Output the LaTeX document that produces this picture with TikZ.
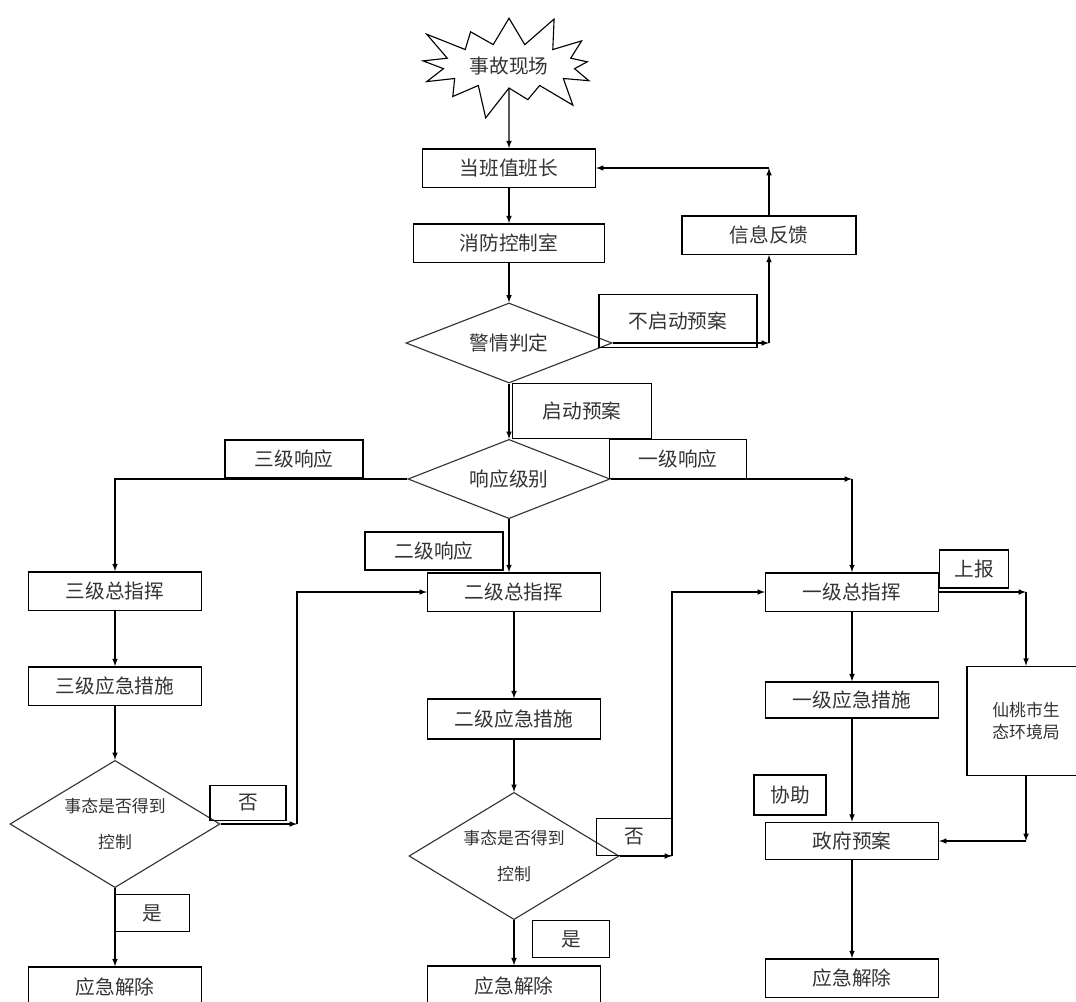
\documentclass[tikz,border=0pt]{standalone}
\usepackage{fontspec}
\setmainfont{Noto Sans CJK SC}
\usepackage{tikz}
\usetikzlibrary{shapes.geometric}
\usetikzlibrary{shapes.symbols}
\usetikzlibrary{arrows}
\newcommand\cnbig{\fontsize{14}{17}\selectfont}
\newcommand\cnsmall{\fontsize{12}{16}\selectfont}

\begin{document}
\begin{tikzpicture}[x=.025cm,y=-.025cm]%
        \useasboundingbox (0,0) rectangle (1076,1001); %%
        %\draw[step=100,color=gray,very thin] (0,0) grid (1076,1001);%%
        \begin{scope}[shape=starburst,inner sep=.02cm]
        \tikzstyle{every node}=[draw,line width=.8pt,font=\cnbig,text=black!80,minimum width=5.1cm,minimum height=2.9cm,starburst point height=.9cm,starburst points=13] %%
        \node (acc) at (509,66)  {事故现场}; %%
        \end{scope}%
        \begin{scope}[shape=diamond,inner sep=.02cm,aspect=1.7]
        \tikzstyle{every node}=[draw,line width=.8pt,draw=black!80,font=\cnbig,text=black!80] %%
        \node[minimum width=5.15cm,minimum height=2cm] (jq) at (509,343)  {警情判定}; %%
        \node[minimum width=5.05cm,minimum height=1.98cm] (xy) at (509,479)  {响应级别}; %%
        \node[minimum width=5.25cm,minimum height=3.18cm,font=\cnsmall,align=center] (pd3) at (115,824)  {事态是否得到\\[10pt]控制}; %%
        \node[minimum width=5.25cm,minimum height=3.18cm,font=\cnsmall,align=center] (pd2) at (514,856)  {事态是否得到\\[10pt]控制}; %%
        \end{scope}
        \begin{scope}[shape=rectangle,inner sep=.05cm,minimum width=4.32cm,minimum height=.96cm]
        \tikzstyle{every node}=[draw,line width=1pt,font=\cnbig,text=black!80] %%
        \node (bz) at (509,168)  {当班值班长}; %%
        \node[minimum width=4.78cm] (xf) at (509,243)  {消防控制室}; %%
        \node[minimum width=4.35cm] (fk) at (769,235)  {信息反馈}; %%
        \node (zh3) at (115,591)  {三级总指挥}; %%
        \node (zh2) at (514,592)  {二级总指挥}; %%
        \node (zh1) at (852,592)  {一级总指挥}; %%
        \node (cs3) at (115,686)  {三级应急措施}; %%
        \node[minimum height=1cm] (cs2) at (514,719)  {二级应急措施}; %%
        \node[minimum height=.9cm] (cs1) at (852,700)  {一级应急措施}; %%
        \node[minimum height=.93cm] (zf) at (852,841)  {政府预案}; %%
        \node[minimum height=1cm] (jc3) at (115,987)  {应急解除}; %%
        \node[minimum height=1cm] (jc2) at (514,986)  {应急解除}; %%
        \node (jc1) at (852,978)  {应急解除}; %%
        \node[minimum width=2.95cm,minimum height=2.73cm,font=\cnsmall,align=center] (hb) at (1026,721)  {仙桃市生\\态环境局}; %%
        \end{scope}
        \begin{scope}[shape=rectangle,inner sep=.05cm]
        \tikzstyle{every node}=[draw,line width=1pt,font=\cnbig,text=black!80] %%
        \node[minimum width=3.48cm,minimum height=1.38cm] (qd) at (582,411)  {启动预案}; %%
        \node[minimum width=3.95cm,minimum height=1.33cm] (bq) at (678,321)  {不启动预案}; %%
        \node[minimum width=3.45cm,minimum height=.95cm] (s3) at (294,459)  {三级响应}; %%
        \node[minimum width=3.43cm,minimum height=.98cm] (s1) at (678,459)  {一级响应}; %%
        \node[minimum width=3.45cm,minimum height=.95cm] (s2) at (434,551)  {二级响应}; %%
        \node[minimum width=1.73cm,minimum height=.95cm] (sb) at (974,569)  {上报}; %%
        \node[minimum width=1.9cm,minimum height=.88cm] (f3) at (248,803)  {否}; %%
        \node[minimum width=1.88cm,minimum height=.93cm] (f2) at (634,837)  {否}; %%
        \node[minimum width=1.88cm,minimum height=.93cm] (y3) at (152,913)  {是}; %%
        \node[minimum width=1.93cm,minimum height=.93cm] (y2) at (571,939)  {是}; %%
        \node[minimum width=1.8cm,minimum height=1cm] (xz) at (790,795)  {协助}; %%
        \end{scope}
        \coordinate (k1) at (fk.south |- jq.east); %%
        \coordinate (k2) at (fk.north |- bz.east); %%
        \coordinate (k3) at (zh1.north |- xy.east); %%
        \coordinate (k4) at (297,824); %%
        \coordinate (k5) at (672,856); %%
        \coordinate (k6) at (hb.north |- zh1.east); %%
        \coordinate (k7) at (hb.south |- zf.east); %%
        \draw[->,-latex,thick] (acc.south)--(bz.north); %%
        \draw[->,-latex,thick] (bz)--(xf); %%
        \draw[->,-latex,thick] (xf)--(jq); %%
        \draw[->,-latex,thick] (jq)--(xy); %%
        \draw[->,-latex,thick] (jq.east)--(k1); %%
        \draw[->,-latex,thick] (k1)--(fk.south); %%
        \draw[->,-latex,thick] (fk.north)--(k2); %%
        \draw[->,-latex,thick] (k2)--(bz.east); %%
        \draw[->,-latex,thick] (xy.west)-|(zh3.north); %%
        \draw[->,-latex,thick] (xy.east)--(k3); %%
        \draw[->,-latex,thick] (k3)--(zh1.north); %%
        \draw[->,-latex,thick] (xy.south)--(xy.south |- zh2.north); %%
        \draw[->,-latex,thick] (zh3)--(cs3); %%
        \draw[->,-latex,thick] (cs3)--(pd3); %%
        \draw[->,-latex,thick] (pd3)--(jc3); %%
        \draw[->,-latex,thick] (zh2)--(cs2); %%
        \draw[->,-latex,thick] (cs2)--(pd2); %%
        \draw[->,-latex,thick] (pd2)--(jc2); %%
        \draw[->,-latex,thick] (zh1)--(cs1); %%
        \draw[->,-latex,thick] (cs1)--(zf); %%
        \draw[->,-latex,thick] (zf)--(jc1); %%
        \draw[->,-latex,thick] (pd3.east)--(k4); %%
        \draw[->,-latex,thick] (k4)|-(zh2.west); %%
        \draw[->,-latex,thick] (pd2.east)--(k5); %%
        \draw[->,-latex,thick] (k5)|-(zh1.west); %%
        \draw[->,-latex,thick] (zh1.east)--(k6); %%
        \draw[->,-latex,thick] (k6)--(hb.north); %%
        \draw[->,-latex,thick] (hb.south)--(k7); %%
        \draw[->,-latex,thick] (k7)--(zf.east); %%
        \end{tikzpicture}
\end{document}
